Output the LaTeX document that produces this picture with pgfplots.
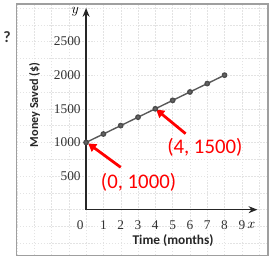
\documentclass[border=0pt]{standalone}
\usepackage{fontspec}
\setmainfont{Liberation Serif}
\newfontfamily\calib{Carlito}
\usepackage{pgfplots}
\pgfplotsset{compat=1.18}
\usetikzlibrary{arrows.meta}
\begin{document}
\begin{tikzpicture}
\path (-84pt,-52pt) rectangle (191pt,212pt);
% paper grid background
\draw[gray!22, line width=0.4pt, dash pattern=on 1.5pt off 1.5pt, xstep=17.5pt, ystep=17pt] (-70pt,-46pt) grid (184pt,208pt);
\draw[gray!75, line width=1.3pt] (-70pt,-46pt) rectangle (184pt,208pt);
\node[font=\fontsize{16}{18}\selectfont\bfseries\calib, text=black!80] at (-80pt,174pt) {?};
\node[font=\fontsize{12.3}{14}\selectfont\bfseries\calib, text=black!85, rotate=90] at (-52pt,106pt) {Money Saved (\$)};
\node[font=\fontsize{13.5}{15}\selectfont\bfseries\calib, text=black!85] at (88pt,-31pt) {Time (months)};
\begin{axis}[
  anchor=origin, at={(0pt,0pt)},
  x=17.5pt, y=0.068pt,
  xmin=0, xmax=9.9, ymin=0, ymax=3000,
  axis lines=left,
  axis line style={line width=1.5pt, black!85, -{Stealth[length=9pt,width=7pt]}},
  xtick={1,...,9}, ytick={500,1000,1500,2000,2500},
  major tick length=0pt,
  /pgf/number format/assume math mode=true,
  /pgf/number format/1000 sep={},
  tick label style={font=\fontsize{13.5}{15}\selectfont, text=black!80},
  xticklabel style={yshift=-8pt},
  yticklabel style={xshift=-2pt},
  clip=false,
]
\addplot[black!65, line width=1.4pt, mark=*, mark size=2.2pt, mark options={fill=black!60, draw=black!70}]
  coordinates {(0,1000) (1,1125) (2,1250) (3,1375) (4,1500) (5,1625) (6,1750) (7,1875) (8,2000)};
\node[font=\fontsize{13.5}{15}\selectfont, text=black!80] at (axis cs:0,0) [xshift=-6pt, yshift=-16pt] {0};
\node[font=\fontsize{15}{16}\selectfont\itshape] at (axis cs:9.55,0) [yshift=-16pt] {$x$};
\node[font=\fontsize{15}{16}\selectfont\itshape] at (axis cs:0,3000) [xshift=-11pt, yshift=-4pt] {$y$};
\draw[red, line width=2.8pt, -{Triangle[length=8pt,width=9pt]}] (axis cs:2.0,630) -- (axis cs:0.12,985);
\draw[red, line width=2.8pt, -{Triangle[length=8pt,width=9pt]}] (axis cs:5.75,1130) -- (axis cs:4.05,1490);
\node[red, font=\fontsize{21}{24}\selectfont\calib] at (axis cs:3.03,412) {(0, 1000)};
\node[red, font=\fontsize{21}{24}\selectfont\calib] at (axis cs:6.86,930) {(4, 1500)};
\end{axis}
\end{tikzpicture}
\end{document}
